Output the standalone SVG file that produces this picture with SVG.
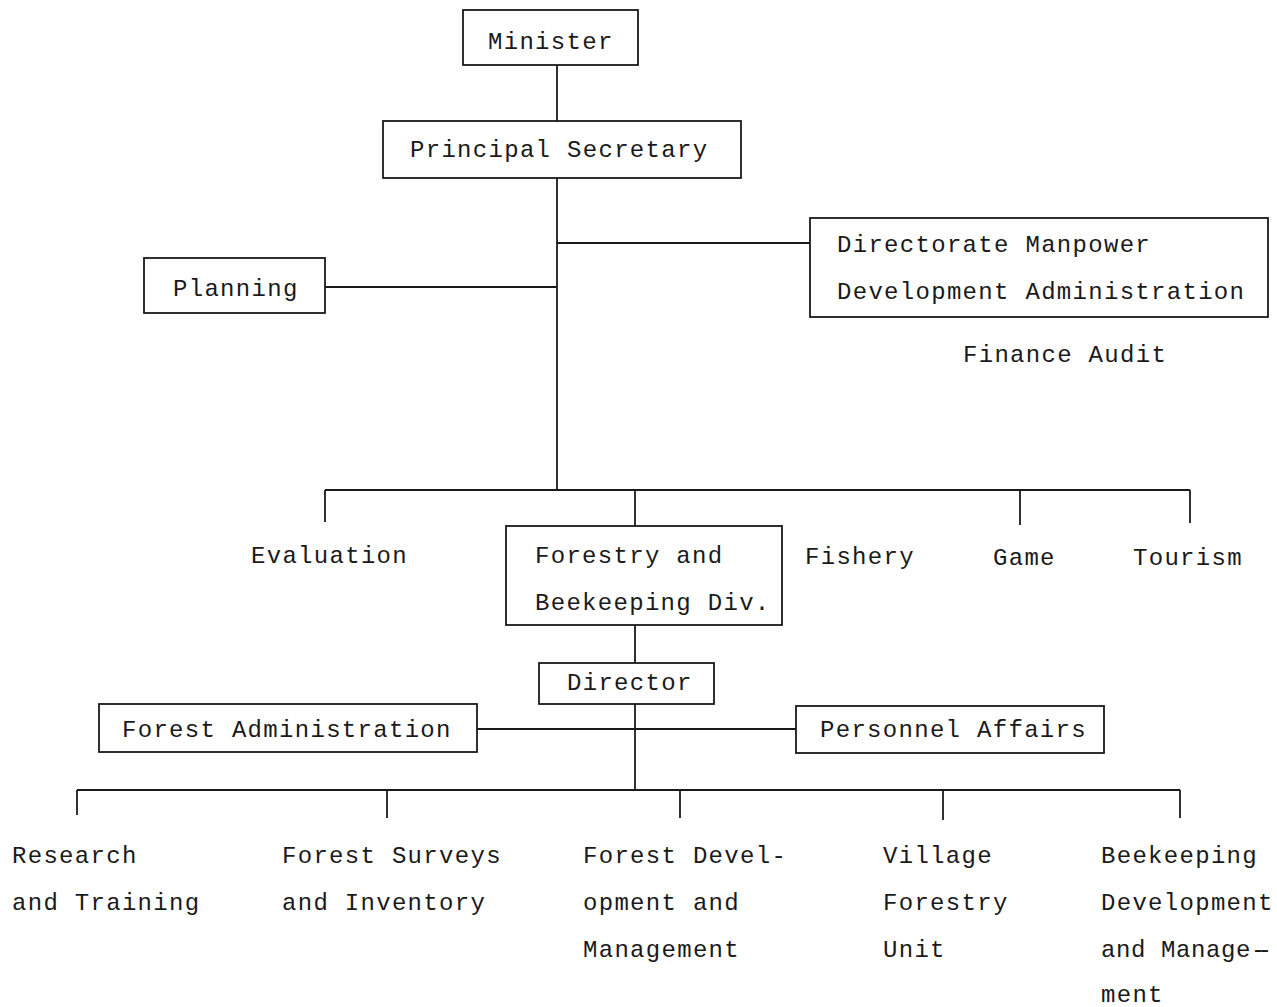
<svg xmlns="http://www.w3.org/2000/svg" width="1277" height="1007" viewBox="0 0 1277 1007">
<style>
text{font-family:"Liberation Mono","DejaVu Sans Mono",monospace;font-size:24px;letter-spacing:1.3px;fill:#1a1a1a}
rect{fill:none;stroke:#1a1a1a;stroke-width:1.8}
#connectors line{stroke:#1a1a1a;stroke-width:1.8}
</style>
<rect x="0" y="0" width="1277" height="1007" style="fill:#fff;stroke:none"/>
<g id="connectors">
<line x1="557" y1="65" x2="557" y2="121"/>
<line x1="557" y1="178" x2="557" y2="490"/>
<line x1="557" y1="243" x2="810" y2="243"/>
<line x1="325" y1="287" x2="557" y2="287"/>
<line x1="325" y1="490" x2="1190" y2="490"/>
<line x1="325" y1="490" x2="325" y2="522"/>
<line x1="635" y1="490" x2="635" y2="526"/>
<line x1="1020" y1="490" x2="1020" y2="525"/>
<line x1="1190" y1="490" x2="1190" y2="523"/>
<line x1="635" y1="625" x2="635" y2="663"/>
<line x1="635" y1="704" x2="635" y2="790"/>
<line x1="477" y1="729" x2="796" y2="729"/>
<line x1="77" y1="790" x2="1180" y2="790"/>
<line x1="77" y1="790" x2="77" y2="815"/>
<line x1="387" y1="790" x2="387" y2="818"/>
<line x1="680" y1="790" x2="680" y2="818"/>
<line x1="943" y1="790" x2="943" y2="820"/>
<line x1="1180" y1="790" x2="1180" y2="818"/>
</g>
<g id="minister"><rect x="463" y="10" width="175" height="55"/><text x="488" y="49">Minister</text></g>
<g id="principal-secretary"><rect x="383" y="121" width="358" height="57"/><text x="410" y="157">Principal Secretary</text></g>
<g id="directorate"><rect x="810" y="218" width="458" height="99"/><text x="837" y="252">Directorate Manpower</text><text x="837" y="299">Development Administration</text></g>
<g id="finance-audit"><text x="963" y="362">Finance Audit</text></g>
<g id="planning"><rect x="144" y="258" width="181" height="55"/><text x="173" y="296">Planning</text></g>
<g id="evaluation"><text x="251" y="563">Evaluation</text></g>
<g id="forestry-div"><rect x="506" y="526" width="276" height="99"/><text x="535" y="563">Forestry and</text><text x="535" y="610">Beekeeping Div.</text></g>
<g id="fishery"><text x="805" y="564">Fishery</text></g>
<g id="game"><text x="993" y="565">Game</text></g>
<g id="tourism"><text x="1133" y="565">Tourism</text></g>
<g id="director"><rect x="539" y="663" width="175" height="41"/><text x="567" y="690">Director</text></g>
<g id="forest-administration"><rect x="99" y="704" width="378" height="48"/><text x="122" y="737">Forest Administration</text></g>
<g id="personnel-affairs"><rect x="796" y="706" width="308" height="47"/><text x="820" y="737">Personnel Affairs</text></g>
<g id="research"><text x="12" y="863">Research</text><text x="12" y="910">and Training</text></g>
<g id="surveys"><text x="282" y="863">Forest Surveys</text><text x="282" y="910">and Inventory</text></g>
<g id="development"><text x="583" y="863">Forest Devel-</text><text x="583" y="910">opment and</text><text x="583" y="957">Management</text></g>
<g id="village"><text x="883" y="863">Village</text><text x="883" y="910">Forestry</text><text x="883" y="957">Unit</text></g>
<g id="beekeeping"><text x="1101" y="863">Beekeeping</text><text x="1101" y="910">Development</text><text x="1101" y="957" style="letter-spacing:0.6px">and Manage<tspan style="letter-spacing:-8px">--</tspan></text><text x="1101" y="1002">ment</text></g>
</svg>
